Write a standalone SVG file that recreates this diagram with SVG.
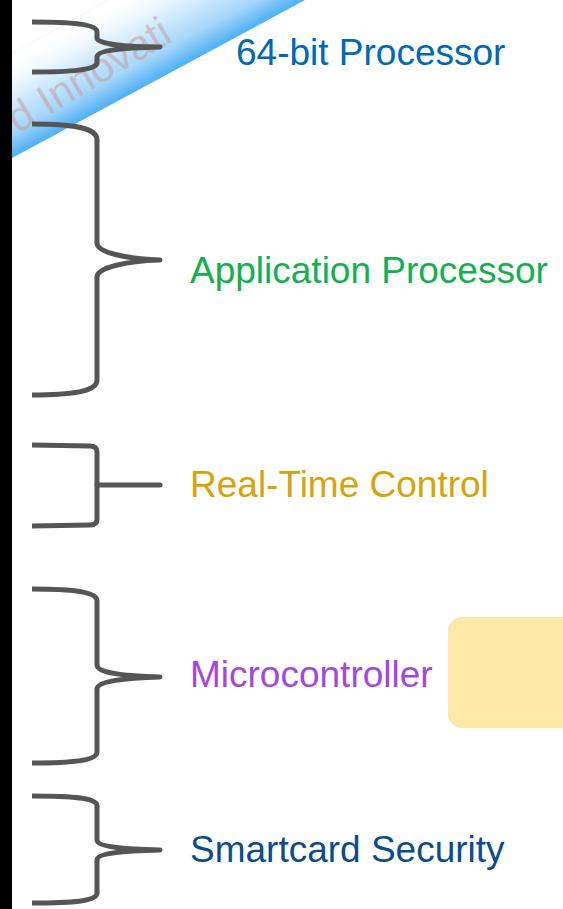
<svg xmlns="http://www.w3.org/2000/svg" width="563" height="909" viewBox="0 0 563 909">
  <style>
    .brace { fill: none; stroke: #555555; stroke-width: 5; stroke-linejoin: round; stroke-linecap: butt; }
    .stem { fill: none; stroke: #555555; stroke-width: 5; stroke-linecap: round; }
    .label { font-family: "Liberation Sans", Arial, sans-serif; font-size: 37px; }
    .wm { font-family: "Liberation Sans", Arial, sans-serif; font-size: 42px; fill: #c49a9a; opacity: 0.5; }
  </style>
  <defs>
    <linearGradient id="ribbonFill" gradientUnits="userSpaceOnUse" x1="60" y1="28" x2="103.5" y2="108.6">
      <stop offset="0" stop-color="#ffffff" stop-opacity="0"/>
      <stop offset="0.35" stop-color="#e3f2fd"/>
      <stop offset="0.75" stop-color="#a5d6fa"/>
      <stop offset="1" stop-color="#4fb0f5"/>
    </linearGradient>
  </defs>

  <!-- page background -->
  <rect x="0" y="0" width="563" height="909" fill="#ffffff"/>

  <!-- diagonal ribbon with watermark -->
  <g id="ribbon">
    <polygon points="12,55 110,0 305,0 12,158" fill="url(#ribbonFill)"/>
    <line x1="12" y1="54" x2="108" y2="0" stroke="#a0a0a0" stroke-width="1" stroke-dasharray="1 2" opacity="0.35"/>
    <text class="wm" x="0" y="0" transform="translate(18,134) rotate(-31)">d Innovati</text>
  </g>

  <!-- left edge strip -->
  <rect x="0" y="0" width="12" height="909" fill="#000000"/>

  <!-- brackets linking each range to its label -->
  <g id="connectors">
    <path class="brace" d="M32 22 C70 22 97 24 97 32 L97 38 C97 44 125 47 160 47 C125 48 97 50 97 57 L97 63 C97 70 70 72 32 72"/>
    <path class="brace" d="M32 124 C75 124 97 128 97 140 L97 243 C97 252 125 259 160 260 C125 261 97 268 97 277 L97 380 C97 391 75 395 32 395"/>
    <path class="brace" d="M32 445 L90 446 Q97 446 97 452 L97 519 Q97 525 90 525 L32 526"/>
    <path class="stem" d="M97 485 L160 485"/>
    <path class="brace" d="M32 589 C75 589 97 592 97 601 L97 665 C97 673 125 676 160 677 C125 678 97 681 97 689 L97 752 C97 760 75 763 32 763"/>
    <path class="brace" d="M32 796 C75 796 97 798 97 806 L97 840 C97 847 125 849 160 850 C125 851 97 853 97 860 L97 893 C97 901 75 903 32 903"/>
  </g>

  <g id="node-64bit">
    <text class="label" x="236" y="65" fill="#0068b5">64-bit Processor</text>
  </g>
  <g id="node-application">
    <text class="label" x="190" y="283" fill="#13b04d">Application Processor</text>
  </g>
  <g id="node-realtime">
    <text class="label" x="190" y="497" fill="#d6a40a">Real-Time Control</text>
  </g>
  <g id="node-microcontroller">
    <text class="label" x="190" y="687" fill="#a547df">Microcontroller</text>
  </g>
  <g id="node-smartcard">
    <text class="label" x="190" y="862" fill="#0a4c8c">Smartcard Security</text>
  </g>

  <g id="note-box">
    <rect x="448" y="617" width="130" height="111" rx="14" ry="14" fill="#fee8a7"/>
  </g>
</svg>
